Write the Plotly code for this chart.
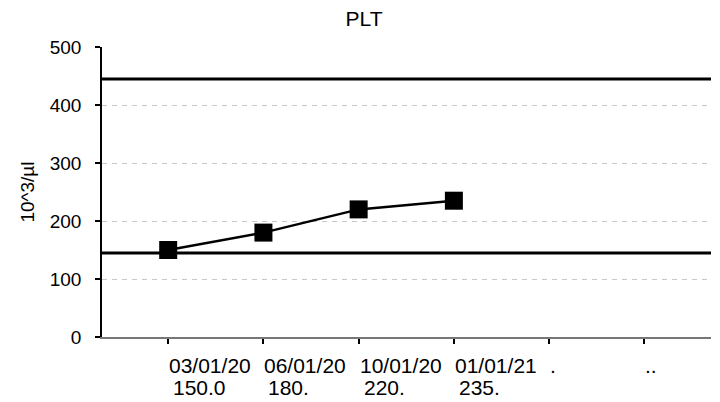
import plotly.graph_objects as go

# ---- data ----
categories = ["03/01/20", "06/01/20", "10/01/20", "01/01/21", ".", ".."]
value_labels = ["150.0", "180.", "220.", "235.", "", ""]
plt_values = [150, 180, 220, 235]
ref_low = 145
ref_high = 445
y_ticks = [0, 100, 200, 300, 400, 500]
title_text = "PLT"
y_title = "10^3/µl"

FONT = "Liberation Sans, Arial, sans-serif"

# page body has an 8px margin, so the figure is sized to fill the rest of the window
W, H = 712, 394
M_L, M_R, M_T, M_B = 94, 9, 39, 65
plot_h = H - M_T - M_B

xs = list(range(len(categories)))

fig = go.Figure()
fig.add_trace(go.Scatter(
    x=xs[:len(plt_values)], y=plt_values, mode="lines+markers",
    line=dict(color="black", width=2.5),
    marker=dict(symbol="square", size=18, color="black"),
    showlegend=False, hoverinfo="skip",
))

for yv in (ref_low, ref_high):
    fig.add_shape(type="line", xref="paper", yref="y", x0=0, x1=1, y0=yv, y1=yv,
                  line=dict(color="black", width=3), layer="above")

annotations = []
for i, (c, v) in enumerate(zip(categories, value_labels)):
    annotations.append(dict(x=i, y=-28.5 / plot_h, xref="x", yref="paper", text=c,
                            showarrow=False, xanchor="left", yanchor="middle",
                            font=dict(family=FONT, size=21, color="black"), xshift=-1))
    if v:
        annotations.append(dict(x=i, y=-50.5 / plot_h, xref="x", yref="paper", text=v,
                                showarrow=False, xanchor="left", yanchor="middle",
                                font=dict(family=FONT, size=21, color="black"), xshift=3))

fig.update_layout(
    width=W, height=H,
    margin=dict(l=M_L, r=M_R, t=M_T, b=M_B),
    paper_bgcolor="white", plot_bgcolor="white",
    font=dict(family=FONT, color="black"),
    title=dict(text=title_text, x=0.5, xref="container", xanchor="center",
               y=1 - 3 / H, yref="container", yanchor="top",
               font=dict(family=FONT, size=21, color="black")),
    annotations=annotations,
    xaxis=dict(range=[-0.695, 5.70], tickvals=xs, ticktext=[""] * len(xs),
               showgrid=False, zeroline=False, showline=True, linecolor="#777777",
               linewidth=1.5, ticks="outside", ticklen=5, tickcolor="black",
               tickwidth=1.5, fixedrange=True),
    yaxis=dict(range=[0, 500], tickvals=y_ticks, showgrid=True, gridcolor="#c8c8c8",
               griddash="5px,5px", gridwidth=1, zeroline=False, showline=True,
               linecolor="black", linewidth=1.5, ticks="outside", ticklen=5,
               tickcolor="black", tickwidth=1.5, ticklabelstandoff=10,
               tickfont=dict(family=FONT, size=19, color="black"),
               title=dict(text=y_title, standoff=10,
                          font=dict(family=FONT, size=19, color="black"))),
)

fig.write_html("out.html")
